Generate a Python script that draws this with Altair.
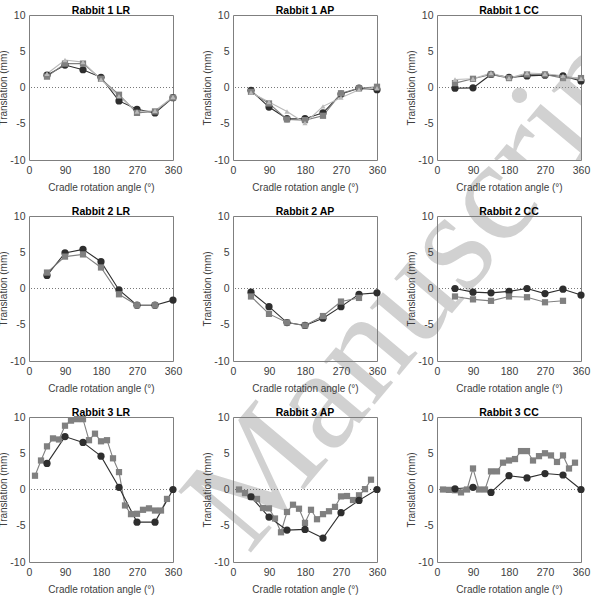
import altair as alt
import pandas as pd

# ---------------- data ----------------
ang8 = [45, 90, 135, 180, 225, 270, 315, 360]
ang7 = [45, 90, 135, 180, 225, 270, 315]
ang23 = [15, 30, 45, 60, 75, 90, 105, 120, 135, 150, 165, 180,
         195, 210, 225, 240, 255, 270, 285, 300, 315, 330, 345]

r1_lr_c = [1.7, 3.1, 2.45, 1.4, -1.85, -3.0, -3.5, -1.4]
r1_lr_s = [1.5, 3.3, 3.3, 1.2, -1.0, -3.5, -3.3, -1.4]
r1_lr_t = [1.9, 3.8, 3.5, 1.1, -1.2, -3.3, -3.2, -1.3]

r1_ap_c = [-0.4, -2.7, -4.3, -4.3, -3.5, -0.9, -0.1, -0.3]
r1_ap_s = [-0.6, -2.2, -4.4, -4.5, -3.9, -0.8, -0.1, 0.1]
r1_ap_t = [-0.7, -2.0, -3.3, -4.9, -2.6, -1.4, -0.3, -0.1]

r1_cc_c = [-0.1, -0.05, 1.8, 1.4, 1.6, 1.7, 1.6, 0.9]
r1_cc_s = [0.6, 1.2, 1.8, 1.3, 1.8, 1.8, 1.3, 1.3]
r1_cc_t = [1.1, 1.2, 2.0, 1.3, 2.0, 1.9, 1.6, 1.2]

r2_lr_c = [1.8, 4.9, 5.4, 3.7, -0.2, -2.3, -2.3, -1.6]
r2_lr_s = [2.2, 4.4, 4.7, 2.9, -0.8, -2.3, -2.3]

r2_ap_c = [-0.5, -2.5, -4.7, -5.1, -4.1, -2.5, -0.8, -0.6]
r2_ap_s = [-1.1, -3.5, -4.7, -5.1, -3.8, -1.8, -1.3]

r2_cc_c = [0.0, -0.5, -0.6, -0.4, 0.0, -0.7, -0.1, -0.9]
r2_cc_s = [-1.1, -1.5, -1.7, -1.1, -1.2, -1.9, -1.7]

r3_lr_c = [3.6, 7.3, 6.5, 4.6, 0.3, -4.5, -4.5, 0.0]
r3_lr_s = [1.9, 4.0, 5.95, 7.05, 6.9, 8.8, 9.5, 9.7, 9.7, 6.8, 7.7, 6.65,
           6.8, 4.3, 2.4, -2.2, -3.4, -3.35, -2.8, -2.6, -2.9, -2.9, -1.3]

r3_ap_c = [-1.0, -3.8, -5.6, -5.5, -6.7, -3.2, -1.5, 0.0]
r3_ap_s = [0.0, -0.5, -1.0, -1.3, -2.55, -2.6, -4.0, -5.9, -3.1, -2.1, -2.65, -4.6,
           -2.8, -4.1, -3.4, -3.0, -2.4, -0.95, -0.9, -1.45, -0.8, 0.05, 1.35]

r3_cc_c = [0.1, 0.3, -0.4, 1.9, 1.6, 2.2, 2.0, 0.0]
r3_cc_s = [0.0, -0.05, -0.1, -0.4, 0.0, 2.9, 0.0, 0.0, 2.5, 2.5, 3.7, 4.0,
           4.2, 5.3, 5.3, 4.0, 4.6, 5.0, 4.7, 3.8, 4.7, 2.9, 3.7]

panels = [
    ("Rabbit 1 LR", [("c", ang8, r1_lr_c), ("s", ang8, r1_lr_s), ("t", ang8, r1_lr_t)]),
    ("Rabbit 1 AP", [("c", ang8, r1_ap_c), ("s", ang8, r1_ap_s), ("t", ang8, r1_ap_t)]),
    ("Rabbit 1 CC", [("c", ang8, r1_cc_c), ("s", ang8, r1_cc_s), ("t", ang8, r1_cc_t)]),
    ("Rabbit 2 LR", [("c", ang8, r2_lr_c), ("s", ang7, r2_lr_s)]),
    ("Rabbit 2 AP", [("c", ang8, r2_ap_c), ("s", ang7, r2_ap_s)]),
    ("Rabbit 2 CC", [("c", ang8, r2_cc_c), ("s", ang7, r2_cc_s)]),
    ("Rabbit 3 LR", [("s", ang23, r3_lr_s), ("c", ang8, r3_lr_c)]),
    ("Rabbit 3 AP", [("s", ang23, r3_ap_s), ("c", ang8, r3_ap_c)]),
    ("Rabbit 3 CC", [("s", ang23, r3_cc_s), ("c", ang8, r3_cc_c)]),
]

# watermark ("Accepted Manuscript"): visible letters, offsets from a panel corner
wm_first = [("M", 227, 463), ("a", 289, 389), ("n", 333, 336), ("u", 380, 281),
            ("s", 421, 232), ("c", 460, 185)]
wm_top_right = [("r", 88, 142), ("i", 117, 108), ("p", 153, 65)]

FONT = "Liberation Sans"
TXT = "#404040"
DARK, MID, LIGHT = "#2e2e2e", "#808080", "#b9b9b9"
series_dom = ["c", "s", "t"]

xscale = alt.Scale(domain=[0, 360], nice=False)
yscale = alt.Scale(domain=[-10, 10], nice=False)

common_axis = dict(domain=False, grid=False, ticks=False, tickSize=0,
                   labelFont=FONT, labelFontSize=10.5, labelColor=TXT,
                   titleFont=FONT, titleFontSize=10, titleFontWeight="normal",
                   titleColor=TXT, labelFlush=False, labelOverlap=False)
xaxis = alt.Axis(values=[0, 90, 180, 270, 360], title="Cradle rotation angle (°)",
                 labelPadding=5, titlePadding=7, **common_axis)
yaxis = alt.Axis(values=[-10, -5, 0, 5, 10], title="Translation (mm)",
                 labelExpr="'' + datum.value", labelPadding=4, titlePadding=1, **common_axis)


def watermark(letters, clip):
    layers = []
    for ch, px, py in letters:
        layers.append(
            alt.Chart(pd.DataFrame({"t": [ch]})).mark_text(
                font="Liberation Serif", fontSize=145, angle=310, align="center",
                baseline="middle", color="#9a9a9a", opacity=0.45, clip=clip
            ).encode(text="t:N", x=alt.value(px), y=alt.value(py))
        )
    return layers


charts = []
for idx, (title, series) in enumerate(panels):
    rows = []
    for order, (name, xs, ys) in enumerate(series):
        for a, v in zip(xs, ys):
            rows.append({"series": name, "angle": a, "value": v, "ord": order})
    df = pd.DataFrame(rows)

    zero = alt.Chart(pd.DataFrame({"z": [0]})).mark_rule(
        color="#555555", strokeDash=[1, 2], strokeWidth=0.8
    ).encode(y=alt.Y("z:Q", scale=yscale, axis=yaxis))

    enc = dict(
        x=alt.X("angle:Q", scale=xscale, axis=xaxis),
        y=alt.Y("value:Q", scale=yscale, axis=yaxis),
        color=alt.Color("series:N", scale=alt.Scale(domain=series_dom, range=[DARK, MID, LIGHT]), legend=None),
    )
    lines = alt.Chart(df).mark_line(strokeWidth=1.1).encode(
        detail="series:N", order="angle:Q", **enc)
    pts = alt.Chart(df).mark_point(filled=True, opacity=1).encode(
        shape=alt.Shape("series:N", scale=alt.Scale(domain=series_dom,
                        range=["circle", "square", "triangle-up"]), legend=None),
        size=alt.Size("series:N", scale=alt.Scale(domain=series_dom, range=[52, 26, 36]), legend=None),
        **enc)
    layers = [zero, lines, pts]
    if idx == 0:
        layers += watermark(wm_first, False)
    if idx == 2:
        layers += watermark(wm_top_right, True)
    ch = alt.layer(*layers).properties(
        width=144, height=145,
        title=alt.TitleParams(title, font=FONT, fontSize=10.5, fontWeight="bold",
                              color="#000000", offset=0, dy=6, anchor="middle",
                              frame="group"),
    )
    charts.append(ch)

chart = alt.concat(*charts, columns=3, bounds="flush",
                   spacing={"row": 56, "column": 60}).properties(
    padding={"left": -2, "top": 5, "right": 0, "bottom": 0},
    background="white",
).configure_view(
    stroke="#7f7f7f", strokeWidth=1
)

chart.save("out.html", embed_options={"renderer": "svg", "actions": False})
